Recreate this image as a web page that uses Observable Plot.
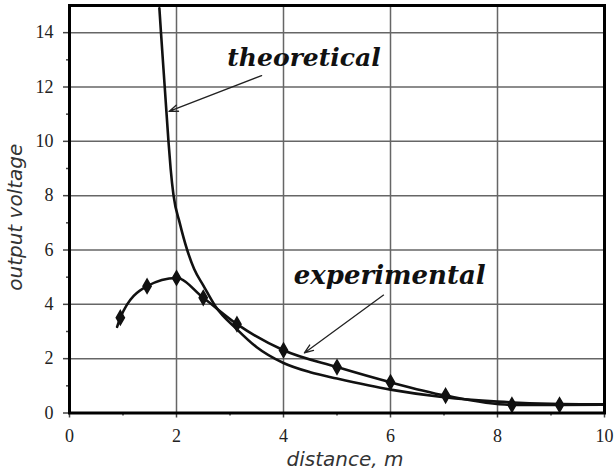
<!DOCTYPE html>
<html>
<head>
<meta charset="utf-8">
<script src="https://cdn.jsdelivr.net/npm/d3@7"></script>
<script src="https://cdn.jsdelivr.net/npm/@observablehq/plot@0.6"></script>
<style>
  html, body { margin: 0; padding: 0; background: #fff; }
  #chart svg { display: block; }
</style>
</head>
<body>
<div id="chart"></div>
<script>
// Measured output (diamond markers)
const expDistance = [0.95, 1.45, 2.0, 2.5, 3.13, 4.0, 5.0, 6.0, 7.03, 8.27, 9.16];
const expVoltage  = [3.51, 4.67, 4.97, 4.24, 3.27, 2.31, 1.69, 1.13, 0.64, 0.30, 0.30];
// Where the fitted experimental curve begins and ends beyond the markers
const expLeadIn  = {distance: 0.89, voltage: 3.17};
const expLeadOut = {distance: 10.0, voltage: 0.31};

// Theoretical prediction
const theoDistance = [1.68, 1.71, 1.78, 1.85, 1.89, 1.945, 2.06, 2.2, 2.33, 2.5, 2.73, 3.13, 3.5, 4.0, 4.5, 5.0, 6.0, 7.0, 8.0, 9.0, 10.0];
const theoVoltage  = [14.9, 14.0, 12.0, 10.0, 9.0, 8.0, 7.0, 6.0, 5.3, 4.7, 3.92, 3.08, 2.42, 1.84, 1.5, 1.27, 0.86, 0.58, 0.42, 0.34, 0.32];

// Axis ticks
const xTicks = [0, 2, 4, 6, 8, 10];
const yTicks = [0, 2, 4, 6, 8, 10, 12, 14];
const xMinor = [1, 3, 5, 7, 9];
const yMinor = [1, 3, 5, 7, 9, 11, 13];

// Annotations: label anchor and arrow from label to curve
const annotations = [
  {text: "theoretical",  x: 2.95, y: 12.76, x1: 3.59, y1: 12.42, x2: 1.86, y2: 11.1, size: 25},
  {text: "experimental", x: 4.19, y: 4.74,  x1: 5.87, y1: 4.34,  x2: 4.39, y2: 2.21, size: 26}
];

const markers = expDistance.map((d, i) => ({distance: d, voltage: expVoltage[i]}));
const expCurve = [expLeadIn, ...markers, expLeadOut];
const theoCurve = theoDistance.map((d, i) => ({distance: d, voltage: theoVoltage[i]}));

const tickText = {fontFamily: "Liberation Serif", fontSize: 18, fill: "#222"};
const noLabel = () => "";

const chart = Plot.plot({
  width: 614,
  height: 475,
  marginLeft: 69,
  marginRight: 10,
  marginTop: 5,
  marginBottom: 62.5,
  style: {background: "#fff", color: "#222"},
  x: {domain: [0, 10]},
  y: {domain: [0, 15]},
  marks: [
    Plot.gridX(xTicks, {stroke: "#666", strokeWidth: 1.5, strokeOpacity: 1}),
    Plot.gridY(yTicks, {stroke: "#666", strokeWidth: 1.5, strokeOpacity: 1}),
    // tick marks (major and minor) drawn outward from the frame
    Plot.axisX({ticks: xTicks, tickSize: 5, tickFormat: noLabel, label: null, stroke: "#444", strokeWidth: 1.5}),
    Plot.axisY({ticks: yTicks, tickSize: 6, tickFormat: noLabel, label: null, stroke: "#444", strokeWidth: 1.5}),
    Plot.axisX({ticks: xMinor, tickSize: 3, tickFormat: noLabel, label: null, stroke: "#444", strokeWidth: 1.5}),
    Plot.axisY({ticks: yMinor, tickSize: 3, tickFormat: noLabel, label: null, stroke: "#444", strokeWidth: 1.5}),
    // tick labels in a serif face
    Plot.text(xTicks, {x: d => d, y: 0, text: d => String(d), dy: 23, lineAnchor: "middle", ...tickText}),
    Plot.text(yTicks, {x: 0, y: d => d, text: d => String(d), dx: -16, textAnchor: "end", lineAnchor: "middle", ...tickText}),
    Plot.line(theoCurve, {x: "distance", y: "voltage", curve: "monotone-x", stroke: "#111", strokeWidth: 2.6}),
    Plot.line(expCurve, {x: "distance", y: "voltage", curve: "monotone-x", stroke: "#111", strokeWidth: 2.6}),
    Plot.dot(markers, {x: "distance", y: "voltage", symbol: "diamond", r: 4.3, fill: "#111", stroke: "#111"}),
    Plot.arrow(annotations, {x1: "x1", y1: "y1", x2: "x2", y2: "y2", stroke: "#222", strokeWidth: 1.3, headLength: 11, headAngle: 40}),
    Plot.text(annotations, {x: "x", y: "y", text: "text", textAnchor: "start", lineAnchor: "bottom", fontSize: "size",
      fontFamily: "DejaVu Serif", fontStyle: "italic", fontWeight: "bold", fill: "#111"}),
    Plot.text(["output voltage"], {frameAnchor: "left", textAnchor: "middle", dx: -54, dy: 8, rotate: -90, text: d => d,
      fontFamily: "DejaVu Sans", fontStyle: "italic", fontSize: 20, fill: "#333"}),
    Plot.text(["distance, m"], {frameAnchor: "bottom", dx: 8, dy: 53, text: d => d,
      fontFamily: "DejaVu Sans", fontStyle: "italic", fontSize: 20, fill: "#333"}),
    Plot.frame({stroke: "#000", strokeWidth: 3})
  ]
});

document.getElementById("chart").appendChild(chart);
</script>
</body>
</html>
